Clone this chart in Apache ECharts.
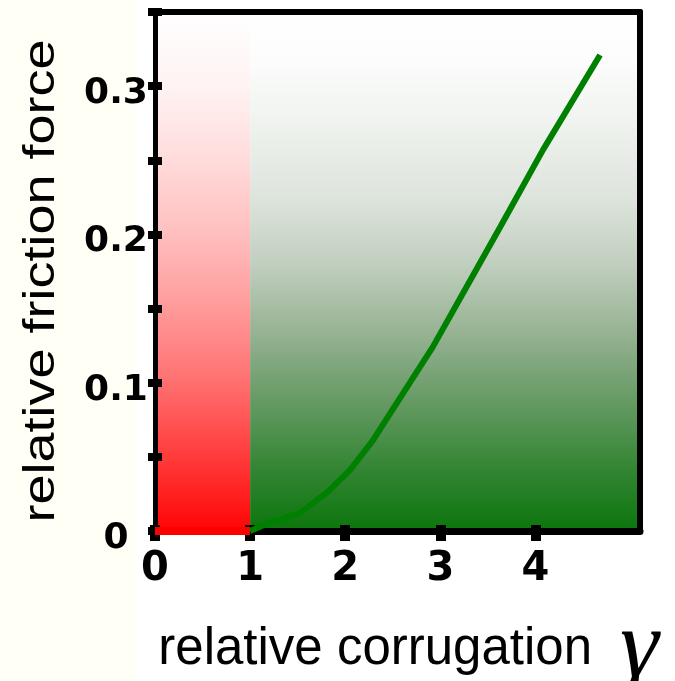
<!DOCTYPE html>
<html><head><meta charset="utf-8">
<script src="https://cdn.jsdelivr.net/npm/echarts@6/dist/echarts.min.js"></script>
<style>html,body{margin:0;padding:0;background:#fff}#c{width:675px;height:681px}</style>
</head><body><div id="c"></div>
<script>
// ---- data ----
const gammaValues    = [1, 1.18, 1.52, 1.81, 2.05, 2.29, 2.50, 2.92, 3.28, 3.63, 4.08, 4.68];
const frictionValues = [0, 0.005, 0.012, 0.026, 0.041, 0.061, 0.082, 0.124, 0.165, 0.205, 0.257, 0.321];
const pinnedGamma    = [0, 1];
const pinnedFriction = [0, 0];
const xTickValues    = [0, 1, 2, 3, 4];
const yTickLabels    = ['0', '0.1', '0.2', '0.3'];
const regionEdges    = [0, 1, 5.1];   // pinned (red) region, sliding (green) region
const xMax = 5.1, yMax = 0.35, yStep = 0.05;

const curveData  = gammaValues.map((g, i) => [g, frictionValues[i]]);
const pinnedData = pinnedGamma.map((g, i) => [g, pinnedFriction[i]]);

const redStops = [[0,'#ffffff'],[0.15,'#fff2f2'],[0.28,'#ffdcdc'],[0.42,'#ffc0c0'],[0.55,'#ffa0a0'],[0.7,'#ff7474'],[0.83,'#ff4545'],[1,'#ff0505']];
const greenStops = [[0,'#ffffff'],[0.1,'#fbfcfb'],[0.2,'#f1f4f0'],[0.36,'#dde4dc'],[0.48,'#c2d0c0'],[0.59,'#a0b89c'],[0.69,'#7ca479'],[0.79,'#569455'],[0.88,'#338533'],[1,'#0c760c']];
const grad = s => ({type:'linear', x:0, y:0, x2:0, y2:1, colorStops: s.map(([o,c]) => ({offset:o, color:c}))});

const tickFont = {color:'#000', fontFamily:'DejaVu Sans', fontWeight:'bold'};
const hidden = {show:false};

const chart = echarts.init(document.getElementById('c'));
chart.setOption({
  animation: false,
  backgroundColor: '#ffffff',
  grid: {left:155, right:35, top:12, bottom:150, containLabel:false, outerBoundsMode:'none'},
  graphic: [
    {type:'rect', z:-10, shape:{x:0, y:0, width:135, height:681}, style:{fill:'#fffff6'}},
    {type:'text', x:42, y:281, rotation:Math.PI/2, scaleX:1.2, z:10,
     style:{text:'relative friction force', font:'45px "Liberation Sans"', fill:'#000', align:'center', verticalAlign:'middle'}}
  ],
  xAxis: [
    {type:'value', min:0, max:xMax, position:'bottom', z:5,
     axisLine:{show:true, onZero:false, lineStyle:{color:'#000', width:7}},
     axisTick:{show:true, customValues:xTickValues, length:10, lineStyle:{color:'#000', width:10}},
     axisLabel:Object.assign({customValues:xTickValues, margin:19, fontSize:40}, tickFont),
     splitLine:hidden,
     name:'{t|relative corrugation}{g|γ}', nameLocation:'middle', nameGap:70,
     nameTextStyle:{rich:{
       t:{fontFamily:'Liberation Sans', fontSize:51, color:'#000', padding:[0,0,0,22]},
       g:{fontFamily:'Liberation Serif', fontStyle:'italic', fontSize:98, color:'#000', padding:[0,0,0,28]}
     }}},
    {type:'value', min:0, max:xMax, position:'bottom', z:5,
     axisLine:{show:false, onZero:false},
     axisTick:{show:true, inside:true, customValues:xTickValues, length:6, lineStyle:{color:'#000', width:10}},
     axisLabel:hidden, splitLine:hidden},
    {type:'value', min:0, max:xMax, position:'top', z:5,
     axisLine:{show:true, onZero:false, lineStyle:{color:'#000', width:6}},
     axisTick:hidden, axisLabel:hidden, splitLine:hidden}
  ],
  yAxis: [
    {type:'value', min:0, max:yMax, interval:yStep, position:'left', z:5,
     axisLine:{show:true, onZero:false, lineStyle:{color:'#000', width:5}},
     axisTick:{show:true, length:7, lineStyle:{color:'#000', width:8}},
     axisLabel:Object.assign({margin:39, fontSize:36, align:'center', verticalAlign:'top', lineHeight:15, formatter: v => {
       const k = Math.round(v / 0.1);
       return Math.abs(v / 0.1 - k) < 1e-6 && yTickLabels[k] !== undefined ? yTickLabels[k] : '';
     }}, tickFont),
     splitLine:hidden},
    {type:'value', min:0, max:yMax, interval:yStep, position:'left', z:5,
     axisLine:{show:false, onZero:false},
     axisTick:{show:true, inside:true, length:7, lineStyle:{color:'#000', width:8}},
     axisLabel:hidden, splitLine:hidden},
    {type:'value', min:0, max:yMax, position:'right', z:5,
     axisLine:{show:true, onZero:false, lineStyle:{color:'#000', width:6}},
     axisTick:hidden, axisLabel:hidden, splitLine:hidden}
  ],
  series: [
    {type:'line', name:'regions', data:[], z:1, silent:true,
     markArea:{silent:true, z:1, data:[
       [{xAxis:regionEdges[0], itemStyle:{color:grad(redStops)}}, {xAxis:regionEdges[1]}],
       [{xAxis:regionEdges[1], itemStyle:{color:grad(greenStops)}}, {xAxis:regionEdges[2]}]
     ]}},
    {type:'line', name:'pinned', data:pinnedData, z:10, symbol:'none',
     lineStyle:{color:'#ff0000', width:8}},
    {type:'line', name:'friction', data:curveData, z:10, symbol:'none',
     lineStyle:{color:'#008000', width:6}}
  ]
});
</script></body></html>
